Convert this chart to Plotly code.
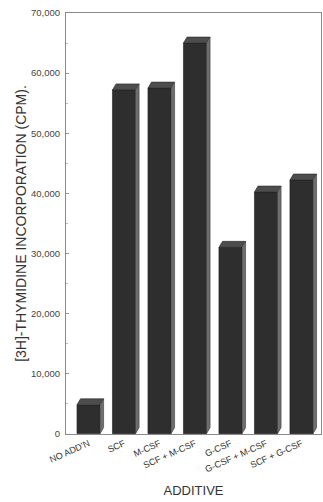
import plotly.graph_objects as go

# Proliferation response by additive
categories = ["NO ADD'N", "SCF", "M-CSF", "SCF + M-CSF", "G-CSF", "G-CSF + M-CSF", "SCF + G-CSF"]
cpm = [4800, 57200, 57500, 65000, 31000, 40200, 42200]

y_ticks = [0, 10000, 20000, 30000, 40000, 50000, 60000, 70000]

FRONT = "#2e2e2e"
TOP = "#4d4d4d"
SIDE = "#6e6e6e"

bar_w = 0.65      # front-face width in category units
depth_x = 0.10    # oblique depth, x units
depth_y = 1000    # oblique depth, y units

xs = list(range(len(categories)))

fig = go.Figure()
fig.add_trace(go.Bar(
    x=xs, y=cpm, width=bar_w,
    marker=dict(color=FRONT, line=dict(color="#1e1e1e", width=0.6)),
    hoverinfo="x+y", showlegend=False,
))

# Oblique top and side faces for the 3-D look
shapes = []
for x, v in zip(xs, cpm):
    l, r = x - bar_w / 2, x + bar_w / 2
    top = f"M {l},{v} L {l + depth_x},{v + depth_y} L {r + depth_x},{v + depth_y} L {r},{v} Z"
    side = f"M {r},0 L {r + depth_x},{depth_y} L {r + depth_x},{v + depth_y} L {r},{v} Z"
    shapes.append(dict(type="path", path=top, xref="x", yref="y",
                       fillcolor=TOP, line=dict(color="#262626", width=0.6), layer="above"))
    shapes.append(dict(type="path", path=side, xref="x", yref="y",
                       fillcolor=SIDE, line=dict(color="#3a3a3a", width=0.6), layer="above"))

fig.update_layout(
    width=323, height=502,
    margin=dict(l=66, r=2, t=13, b=68),
    paper_bgcolor="white", plot_bgcolor="white",
    font=dict(family="Liberation Sans, Arial, sans-serif", color="#333"),
    shapes=shapes,
    xaxis=dict(
        range=[-0.634, 6.55],
        tickmode="array", tickvals=xs, ticktext=categories,
        tickangle=-24, tickfont=dict(size=9, color="#333"),
        ticks="", showgrid=False, zeroline=False,
        showline=True, linecolor="#8a8a8a", linewidth=1, mirror=True,
        title=dict(text="ADDITIVE", font=dict(size=13, color="#333"), standoff=12),
    ),
    yaxis=dict(
        range=[-60, 70000],
        tickmode="array", tickvals=y_ticks, tickformat=",d",
        tickfont=dict(size=9.5, color="#444"),
        ticks="inside", ticklen=3, tickcolor="#999",
        ticklabelstandoff=3,
        minor=dict(dtick=5000, ticks="inside", ticklen=2, tickcolor="#bbb"),
        showgrid=False, zeroline=False,
        showline=True, linecolor="#8a8a8a", linewidth=1, mirror=True,
        title=dict(text="[3H]-THYMIDINE INCORPORATION (CPM).",
                   font=dict(size=14, color="#333"), standoff=1),
    ),
    bargap=0.35,
)

fig.write_html("out.html")
